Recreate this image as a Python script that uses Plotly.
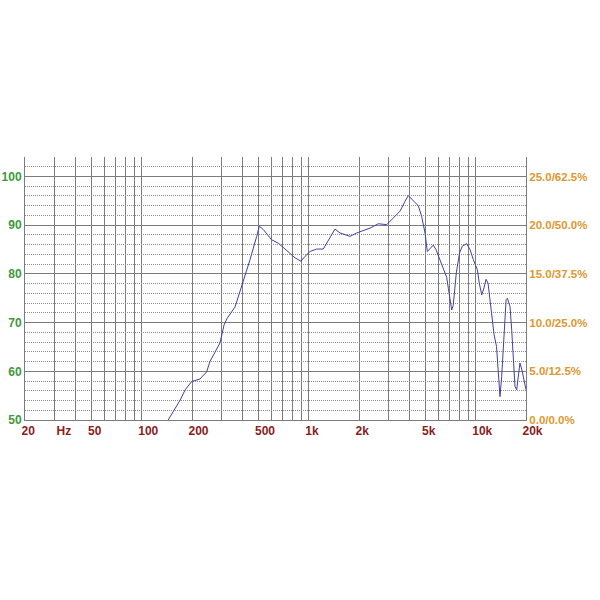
import plotly.graph_objects as go

# ---- data ----
freq_hz = [130, 144, 170, 182, 199, 223, 245, 256, 294, 311, 325, 362, 397, 445, 488, 506,
           535, 600, 658, 755, 828, 899, 950, 1018, 1116, 1222, 1340, 1436, 1539, 1767, 1937,
           2328, 2612, 2931, 3213, 3524, 3771, 3950, 4230, 4530, 4745, 4970, 5130, 5570, 5780,
           6050, 6400, 6700, 6860, 7020, 7180, 7330, 7520, 7650, 8000, 8310, 8820, 9240, 9680,
           10220, 10500, 10860, 11200, 11530, 11850, 12420, 12880, 13320, 13620, 13970, 14300,
           14770, 15050, 15200, 15480, 16040, 16420, 16790, 17180, 17590, 18000, 18400, 18900, 20000]
spl_db = [47.5, 50.0, 54.1, 56.2, 57.9, 58.4, 59.9, 62.0, 65.8, 69.5, 70.9, 73.2, 77.4, 82.9, 87.7, 89.8,
          89.1, 87.0, 86.3, 84.6, 83.3, 82.6, 83.6, 84.6, 85.1, 85.1, 87.4, 89.2, 88.4, 87.7, 88.4,
          89.4, 90.3, 90.1, 91.5, 92.9, 94.9, 96.1, 95.0, 94.0, 91.8, 88.4, 84.6, 85.9, 85.0,
          83.3, 81.2, 79.3, 77.0, 75.0, 72.6, 73.5, 77.0, 80.2, 84.3, 85.7, 86.2, 85.0, 82.9,
          80.9, 78.1, 75.7, 77.1, 78.9, 78.1, 72.0, 67.5, 65.1, 60.3, 54.8, 58.9,
          67.8, 71.3, 74.7, 75.0, 73.3, 68.5, 62.3, 56.9, 56.2, 58.9, 61.7, 60.3, 56.2]

x_tick_vals = [20, 32.4, 50, 100, 200, 500, 1000, 2000, 5000, 10000, 20000]
x_tick_text = ["20", "Hz", "50", "100", "200", "500", "1k", "2k", "5k", "10k", "20k"]
x_grid_vals = [m * d for d in (10, 100, 1000, 10000) for m in range(1, 10) if 20 <= m * d <= 20000]

y_tick_vals = [50, 60, 70, 80, 90, 100]
y_tick_text = ["50", "60", "70", "80", "90", "100"]
y2_tick_text = ["0.0/0.0%", "5.0/12.5%", "10.0/25.0%", "15.0/37.5%", "20.0/50.0%", "25.0/62.5%"]

fig = go.Figure()
fig.add_trace(go.Scatter(x=freq_hz, y=spl_db, mode="lines",
                         line=dict(color="#4040a8", width=1), showlegend=False, hoverinfo="skip"))
fig.add_trace(go.Scatter(x=[20], y=[50], yaxis="y2", mode="markers",
                         marker=dict(opacity=0), showlegend=False, hoverinfo="skip"))

font_family = "Liberation Sans, Arial, sans-serif"
grid_col = "#7c7c7c"

fig.update_layout(
    width=600, height=600,
    margin=dict(l=25, r=74, t=157, b=180),
    paper_bgcolor="white", plot_bgcolor="white",
    xaxis=dict(
        type="log", range=[1.30103, 4.30103], automargin=False,
        tickmode="array", tickvals=x_tick_vals, ticktext=x_tick_text,
        showgrid=False, ticks="", zeroline=False,
        ticklabelposition="outside right", ticklabelshift=-4,
        tickfont=dict(family=font_family, size=12, color="#8c1c1c", weight="bold"),
        minor=dict(tickmode="array", tickvals=x_grid_vals, showgrid=True,
                   gridcolor=grid_col, gridwidth=1, ticks=""),
        showline=True, linecolor=grid_col, linewidth=1,
    ),
    yaxis=dict(
        range=[50, 104], automargin=False,
        tickmode="array", tickvals=y_tick_vals, ticktext=y_tick_text,
        showgrid=True, gridcolor=grid_col, gridwidth=1, ticks="", zeroline=False,
        tickfont=dict(family=font_family, size=12, color="#3c9a3c", weight="bold"),
        minor=dict(dtick=2, tick0=50, showgrid=True, gridcolor="#8c8c8c", griddash="1px,1px", gridwidth=1),
        showline=True, linecolor=grid_col, linewidth=1,
    ),
    yaxis2=dict(
        range=[50, 104], overlaying="y", side="right", automargin=False,
        tickmode="array", tickvals=y_tick_vals, ticktext=y2_tick_text,
        showgrid=False, ticks="", zeroline=False,
        tickfont=dict(family=font_family, size=11.5, color="#e0972e", weight="bold"),
        showline=True, linecolor=grid_col, linewidth=1,
    ),
)

fig.write_html("out.html", config={"displayModeBar": False},
               post_script="document.body.style.margin='0';")
